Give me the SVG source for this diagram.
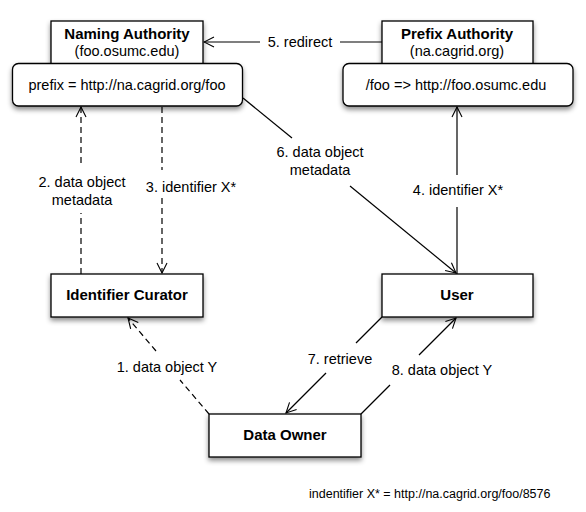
<svg xmlns="http://www.w3.org/2000/svg" width="586" height="512" viewBox="0 0 586 512">
<defs>
<filter id="sh" x="-10%" y="-20%" width="130%" height="160%">
<feDropShadow dx="0" dy="3" stdDeviation="2.5" flood-color="#000" flood-opacity="0.45"/>
</filter>
<marker id="ah" viewBox="0 0 12 12" refX="11" refY="6" markerWidth="12" markerHeight="12" markerUnits="userSpaceOnUse" orient="auto">
<path d="M1,1 L11,6 L1,11" fill="none" stroke="#000" stroke-width="1.1"/>
</marker>
</defs>
<style>
.box{fill:#fff;stroke:#000;stroke-width:1.3;filter:url(#sh)}
.b{font-family:"Liberation Sans",Arial,sans-serif;font-weight:bold;font-size:15px;text-anchor:middle;fill:#000}
.t{font-family:"Liberation Sans",Arial,sans-serif;font-size:14.5px;text-anchor:middle;fill:#000}
.ln{fill:none;stroke:#000;stroke-width:1.2}
.d{stroke-dasharray:6 4}
</style>
<rect width="586" height="512" fill="#fff"/>
<g id="naming-authority">
<rect class="box" x="51" y="21" width="152" height="48"/>
<text class="b" x="127" y="39">Naming Authority</text>
<text class="t" x="127" y="56">(foo.osumc.edu)</text>
<rect class="box" x="12.5" y="63.5" width="230" height="42.5" rx="6"/>
<text class="t" x="127" y="90">prefix = http://na.cagrid.org/foo</text>
</g>
<g id="prefix-authority">
<rect class="box" x="382" y="21" width="151" height="48"/>
<text class="b" x="457" y="39">Prefix Authority</text>
<text class="t" x="457" y="56">(na.cagrid.org)</text>
<rect class="box" x="343" y="63.5" width="230" height="42.5" rx="6"/>
<text class="t" x="456" y="90">/foo =&gt; http://foo.osumc.edu</text>
</g>
<g id="identifier-curator">
<rect class="box" x="51" y="274" width="152" height="43"/>
<text class="b" x="127" y="300">Identifier Curator</text>
</g>
<g id="user">
<rect class="box" x="382" y="274" width="151" height="43"/>
<text class="b" x="457" y="300">User</text>
</g>
<g id="data-owner">
<rect class="box" x="209" y="414" width="152" height="43"/>
<text class="b" x="285" y="440">Data Owner</text>
</g>
<g id="connectors">
<path class="ln" d="M382,42 H340"/>
<path class="ln" d="M260,42 H204" marker-end="url(#ah)"/>
<text class="t" x="300" y="47">5. redirect</text>

<path class="ln d" d="M81,274 V213"/>
<path class="ln d" d="M81,163 V107" marker-end="url(#ah)"/>
<text class="t" x="82" y="187">2. data object</text>
<text class="t" x="82" y="205">metadata</text>

<path class="ln d" d="M162,107 V170"/>
<path class="ln d" d="M162,198 V273" marker-end="url(#ah)"/>
<text class="t" x="191" y="192">3. identifier X*</text>

<path class="ln" d="M457,274 V207"/>
<path class="ln" d="M457,175 V107" marker-end="url(#ah)"/>
<text class="t" x="458" y="195">4. identifier X*</text>

<path class="ln" d="M243,98 L292,138"/>
<path class="ln" d="M350,186 L456,273" marker-end="url(#ah)"/>
<text class="t" x="320" y="157">6. data object</text>
<text class="t" x="320" y="175">metadata</text>

<path class="ln d" d="M209,414 L180,380"/>
<path class="ln d" d="M156,351 L128,318" marker-end="url(#ah)"/>
<text class="t" x="167" y="372">1. data object Y</text>

<path class="ln" d="M382,317 L356,343"/>
<path class="ln" d="M326,373 L286,413" marker-end="url(#ah)"/>
<text class="t" x="340" y="364">7. retrieve</text>

<path class="ln" d="M361,414 L390,385"/>
<path class="ln" d="M419,355 L456,318" marker-end="url(#ah)"/>
<text class="t" x="442" y="375">8. data object Y</text>
</g>
<text x="309" y="498" font-family="'Liberation Sans',Arial,sans-serif" font-size="12.5" fill="#000">indentifier X* = http://na.cagrid.org/foo/8576</text>
</svg>
